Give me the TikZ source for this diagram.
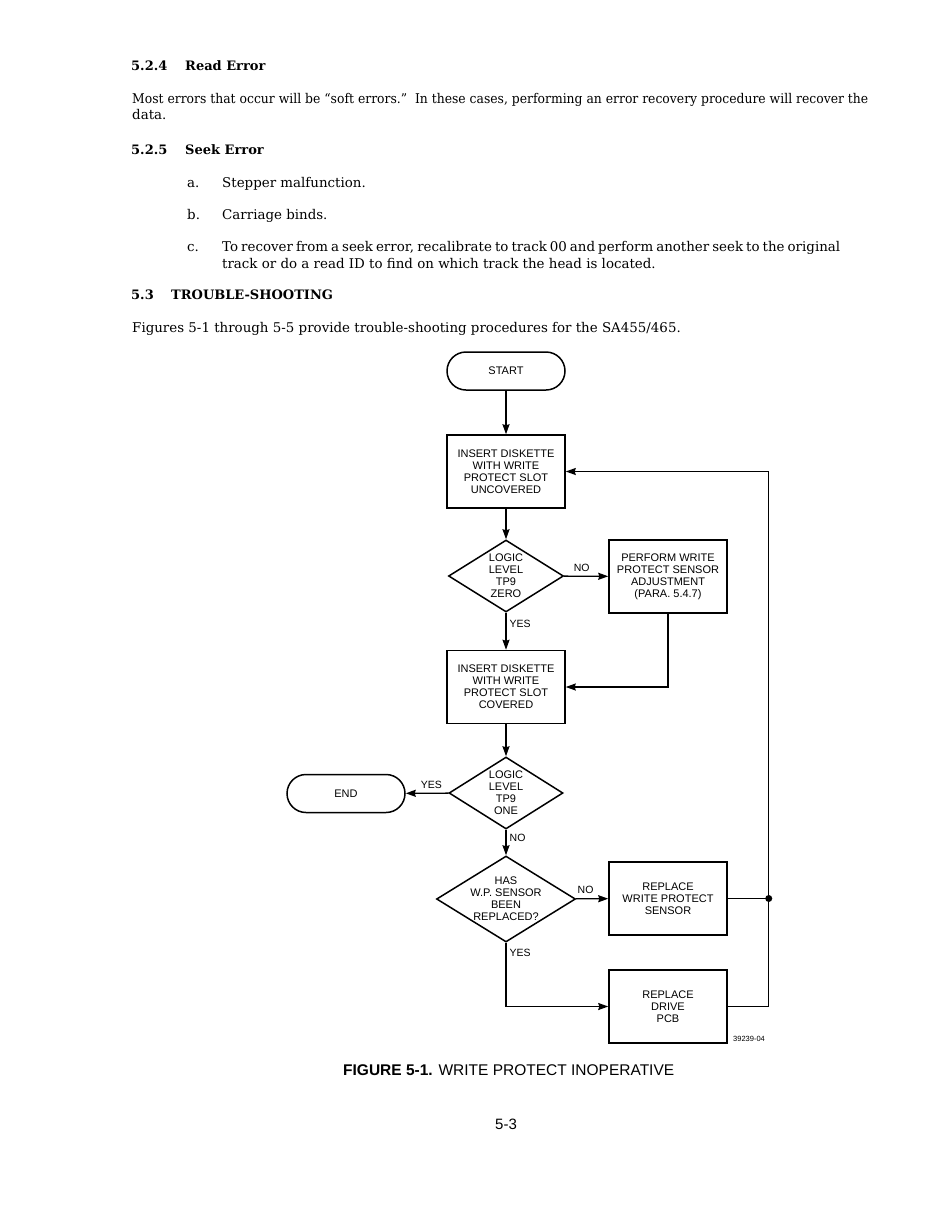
\documentclass[tikz,border=0pt]{standalone}
\usepackage{fontspec}
\setmainfont{DejaVu Serif}
\newfontfamily\chartfont{Liberation Sans}
\usepackage{tikz}
\usetikzlibrary{arrows.meta,positioning,calc,shapes.geometric}

\begin{document}
\begin{tikzpicture}[x=1pt,y=-1pt,
  box/.style={draw, rectangle, line width=1.5pt,
    minimum width=118pt, minimum height=73pt, inner sep=1pt,
    align=center, font=\chartfont\fontsize{11}{12}\selectfont},
  term/.style={box, rounded corners=19pt, minimum height=38pt},
  dec/.style={box, diamond, aspect=1.6, inner sep=-2pt},
  lbl/.style={inner sep=0pt, font=\chartfont\fontsize{10.5}{12}\selectfont},
  txt/.style={anchor=base west, inner sep=0pt, font=\fontsize{13.4}{16}\selectfont},
  hd/.style={txt, font=\fontsize{13}{16}\selectfont\bfseries},
  arr/.style={-{Stealth[length=10pt,width=7pt,inset=1pt]}, line width=1.4pt}]
  \path[use as bounding box, fill=white] (0,0) rectangle (943,1208);
  % Page text
  \node[hd]  (h524) at (131,70) {5.2.4};
  \node[hd]  (t524) at (185,70) {Read Error};
  \node[txt] (p1) at (132,103)
    {\resizebox{736pt}{\height}{Most errors that occur will be ``soft errors.''\ \ In these cases, performing an error recovery procedure will recover the}};
  \node[txt] (p2) at (132,119) {data.};
  \node[hd]  (h525) at (131,154) {5.2.5};
  \node[hd]  (t525) at (185,154) {Seek Error};
  \node[txt] (ia) at (187,187) {a.};
  \node[txt] (ta) at (222,187) {Stepper malfunction.};
  \node[txt] (ib) at (187,219) {b.};
  \node[txt] (tb) at (222,219) {Carriage binds.};
  \node[txt] (ic) at (187,251) {c.};
  \node[txt] (tc1) at (222,251)
    {\makebox[618pt][s]{To recover from a seek error, recalibrate to track 00 and perform another seek to the original}};
  \node[txt] (tc2) at (222,268) {track or do a read ID to find on which track the head is located.};
  \node[hd]  (h53) at (131,299) {5.3};
  \node[hd]  (t53) at (171,299) {TROUBLE-SHOOTING};
  \node[txt] (figs) at (132,332) {Figures 5-1 through 5-5 provide trouble-shooting procedures for the SA455/465.};
  % Main column
  \node[term] (start) at (506,371) {START};
  \node[box]  (ins1) at (506,471.5) {INSERT DISKETTE\\WITH WRITE\\PROTECT SLOT\\UNCOVERED};
  \node[dec, minimum width=115pt, minimum height=72pt] (zero) at (506,576) {LOGIC\\LEVEL\\TP9\\ZERO};
  \node[box]  (ins2) at (506,687) {INSERT DISKETTE\\WITH WRITE\\PROTECT SLOT\\COVERED};
  \node[dec, minimum width=114pt, minimum height=72pt] (one) at (506,793) {LOGIC\\LEVEL\\TP9\\ONE};
  \node[dec, minimum width=139pt, minimum height=86pt] (repl) at (506,899) {HAS\\W.P. SENSOR\\BEEN\\REPLACED?};
  % Side boxes
  \node[term] (end) at (346,793.5) {END};
  \node[box]  (adj) at (668,576.5) {PERFORM WRITE\\PROTECT SENSOR\\ADJUSTMENT\\(PARA. 5.4.7)};
  \node[box]  (sensor) at (668,898.5) {REPLACE\\WRITE PROTECT\\SENSOR};
  \node[box]  (pcb) at (668,1006.5) {REPLACE\\DRIVE\\PCB};
  % Arrows
  \draw[arr] (start) -- (ins1);
  \draw[arr] (ins1) -- (zero);
  \draw[arr] (zero) -- node[lbl, above=4pt, pos=0.4] {NO} (adj);
  \draw[arr] (zero) -- node[lbl, right=3pt, pos=0.3] {YES} (ins2);
  \draw[arr] (adj) |- (ins2);
  \draw[arr] (ins2) -- (one);
  \draw[arr] (one) -- node[lbl, above=4pt, pos=0.4] {YES} (end);
  \draw[arr] (one) -- node[lbl, right=3pt, pos=0.3] {NO} (repl);
  \draw[arr] (repl) -- node[lbl, above=4pt, pos=0.3] {NO} (sensor);
  \draw[arr] (repl) |- node[lbl, right=3pt, pos=0.08] {YES} (pcb);
  % Return path
  \coordinate (corner) at ($(pcb.east)+(41,0)$);
  \coordinate (jn) at (corner |- sensor.east);
  \draw[arr] (pcb.east) -- (corner) |- (ins1.east);
  \draw[line width=1.4pt] (sensor.east) -- (jn);
  \fill (jn) circle (3.5pt);
  % Caption
  \node[anchor=west, inner sep=0pt, font=\chartfont\fontsize{7.5}{9}\selectfont] (dwg) at (733,1039) {39239-04};
  \node[anchor=base west, inner sep=0pt, font=\chartfont\fontsize{15.5}{18}\selectfont] (cap) at (343,1075)
    {\textbf{FIGURE 5-1.} WRITE PROTECT INOPERATIVE};
  \node[anchor=base, inner sep=0pt, font=\chartfont\fontsize{15}{18}\selectfont] (pg) at (506,1129) {5-3};
\end{tikzpicture}
\end{document}
